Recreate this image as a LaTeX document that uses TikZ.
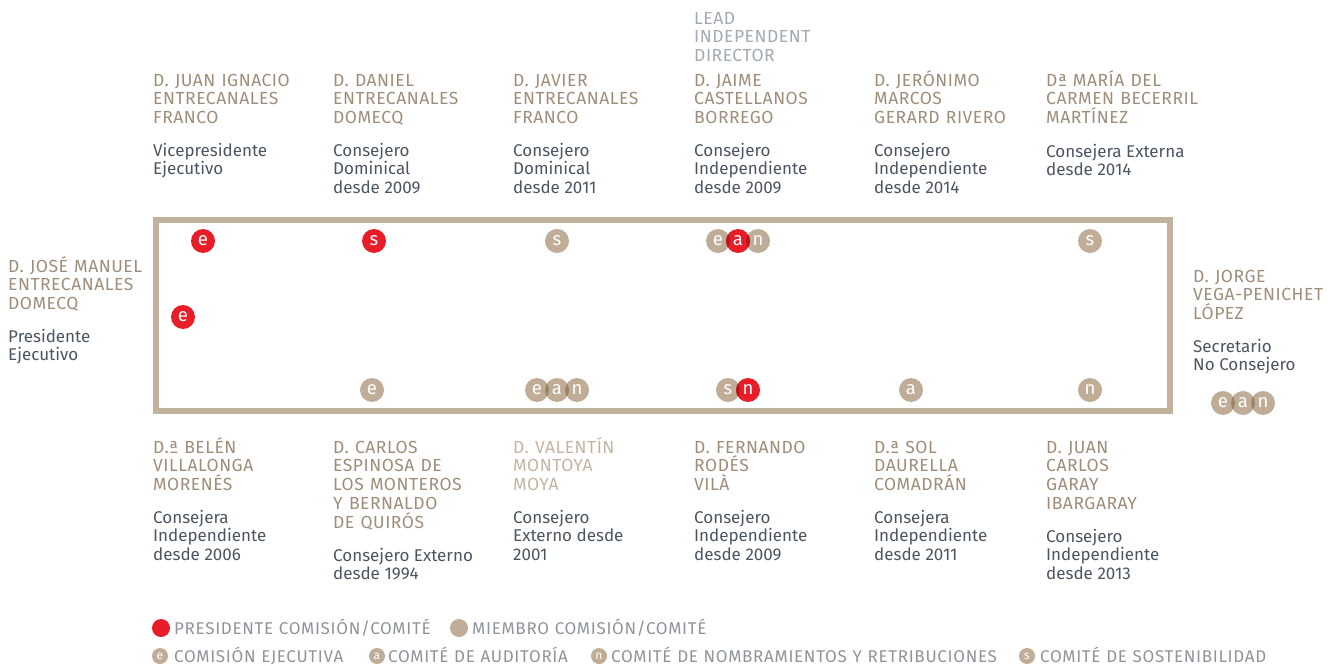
\documentclass[tikz,border=0pt]{standalone}
\usepackage{fontspec}
\setmainfont{Fira Sans}
\newfontfamily\capfont{Fira Sans}[LetterSpace=3, WordSpace=1.2]
\newfontfamily\legfont{Fira Sans}[LetterSpace=4, WordSpace=1.1]
\definecolor{nametan}{HTML}{9E8D79}
\definecolor{lighttan}{HTML}{C4B5A2}
\definecolor{rolegray}{HTML}{4B5560}
\definecolor{leadgray}{HTML}{A2AAB2}
\definecolor{legendgray}{HTML}{8E949A}
\definecolor{boxtan}{HTML}{C2B19C}
\definecolor{circtan}{HTML}{BFAD97}
\definecolor{darktan}{HTML}{9C8468}
\definecolor{cred}{HTML}{E91D27}
\definecolor{darkred}{HTML}{B5151D}
\newcommand{\fs}{\rule{0pt}{18pt}}
\newcommand{\lens}[4]{\begin{scope}\clip (#1) circle (12pt);\fill[#4] (#2) circle (12pt);\end{scope}}
\tikzset{
  nm/.style={anchor=north west, inner sep=0pt, align=left, text=nametan, font=\capfont\fontsize{17.5}{18.7}\selectfont},
  rl/.style={anchor=north west, inner sep=0pt, align=left, text=rolegray, font=\fontsize{17}{18.7}\selectfont},
  pc/.style={circle, fill=cred, minimum size=24pt, inner sep=0pt, text=white, font=\fontsize{18.5}{18}\selectfont},
  mc/.style={circle, fill=circtan, minimum size=24pt, inner sep=0pt, text=white, font=\fontsize{18.5}{18}\selectfont},
  lg/.style={anchor=base west, inner sep=0pt, text=legendgray, font=\legfont\fontsize{17}{18}\selectfont},
  lgc/.style={circle, fill=circtan, minimum size=16pt, inner sep=0pt, text=white, font=\fontsize{12}{12}\selectfont},
}
\begin{document}
\begin{tikzpicture}[x=1pt,y=-1pt]
\useasboundingbox (0,0) rectangle (1336,666);
% board frame
\node[draw=boxtan, line width=5.5pt, minimum width=1014pt, minimum height=191pt, inner sep=0pt] (board) at (663,315.5) {};

% top row names
\node[nm] (n1) at (153,68) {\fs D. JUAN IGNACIO\\ENTRECANALES\\FRANCO};
\node[rl] (r1) at (153,138) {\fs Vicepresidente\\Ejecutivo};
\node[nm] (n2) at (333,68) {\fs D. DANIEL\\ENTRECANALES\\DOMECQ};
\node[rl] (r2) at (333,138) {\fs Consejero\\Dominical\\desde 2009};
\node[nm] (n3) at (513,68) {\fs D. JAVIER\\ENTRECANALES\\FRANCO};
\node[rl] (r3) at (513,138) {\fs Consejero\\Dominical\\desde 2011};
\node[nm, text=leadgray] (lead) at (694,6) {\fs LEAD\\INDEPENDENT\\DIRECTOR};
\node[nm] (n4) at (694,68) {\fs D. JAIME\\CASTELLANOS\\BORREGO};
\node[rl] (r4) at (694,138) {\fs Consejero\\Independiente\\desde 2009};
\node[nm] (n5) at (874,68) {\fs D. JERÓNIMO\\MARCOS\\GERARD RIVERO};
\node[rl] (r5) at (874,138) {\fs Consejero\\Independiente\\desde 2014};
\node[nm] (n6) at (1046,68) {\fs Dª MARÍA DEL\\CARMEN BECERRIL\\MARTÍNEZ};
\node[rl] (r6) at (1046,139) {\fs Consejera Externa\\desde 2014};

% left and right
\node[nm] (n0) at (8,254) {\fs D. JOSÉ MANUEL\\ENTRECANALES\\DOMECQ};
\node[rl] (r0) at (8,324) {\fs Presidente\\Ejecutivo};
\node[nm] (n13) at (1193,264) {\fs D. JORGE\\VEGA-PENICHET\\LÓPEZ};
\node[rl] (r13) at (1193,334) {\fs Secretario\\No Consejero};

% bottom row names
\node[nm] (n7) at (153,435) {\fs D.ª BELÉN\\VILLALONGA\\MORENÉS};
\node[rl] (r7) at (153,505) {\fs Consejera\\Independiente\\desde 2006};
\node[nm] (n8) at (333,435) {\fs D. CARLOS\\ESPINOSA DE\\LOS MONTEROS\\Y BERNALDO\\DE QUIRÓS};
\node[rl] (r8) at (333,543) {\fs Consejero Externo\\desde 1994};
\node[nm, text=lighttan] (n9) at (513,435) {\fs D. VALENTÍN\\MONTOYA\\MOYA};
\node[rl] (r9) at (513,505) {\fs Consejero\\Externo desde\\2001};
\node[nm] (n10) at (694,435) {\fs D. FERNANDO\\RODÉS\\VILÀ};
\node[rl] (r10) at (694,505) {\fs Consejero\\Independiente\\desde 2009};
\node[nm] (n11) at (874,435) {\fs D.ª SOL\\DAURELLA\\COMADRÁN};
\node[rl] (r11) at (874,505) {\fs Consejera\\Independiente\\desde 2011};
\node[nm] (n12) at (1046,435) {\fs D. JUAN\\CARLOS\\GARAY\\IBARGARAY};
\node[rl] (r12) at (1046,524) {\fs Consejero\\Independiente\\desde 2013};

% committee circles, top row
\node[pc] (c1e) at (203,241) {e};
\node[pc] (c2s) at (374,241) {s};
\node[mc] (c3s) at (557,241) {s};
\node[mc] (c4e) at (718,241) {e};
\node[mc] (c4n) at (758,241) {n};
\node[pc] (c4a) at (738,241) {a};
\lens{c4a.center}{c4e.center}{}{darkred}
\lens{c4a.center}{c4n.center}{}{darkred}
\node[mc] (c6s) at (1090,241) {s};
% chairman
\node[pc] (c0e) at (183,317) {e};
% bottom row
\node[mc] (c8e) at (372,390) {e};
\node[mc] (c9e) at (537,390) {e};
\node[mc] (c9a) at (557,390) {a};
\node[mc] (c9n) at (577,390) {n};
\lens{c9e.center}{c9a.center}{}{darktan}
\lens{c9a.center}{c9n.center}{}{darktan}
\node[mc] (c10s) at (728,390) {s};
\node[pc] (c10n) at (748,390) {n};
\lens{c10n.center}{c10s.center}{}{darkred}
\node[mc] (c11a) at (911,390) {a};
\node[mc] (c12n) at (1090,390) {n};
% secretary
\node[mc] (c13e) at (1223,403) {e};
\node[mc] (c13a) at (1243,403) {a};
\node[mc] (c13n) at (1263,403) {n};
\lens{c13e.center}{c13a.center}{}{darktan}
\lens{c13a.center}{c13n.center}{}{darktan}

% legend
\node[circle, fill=cred, minimum size=18pt, inner sep=0pt] (lp) at (161,628) {};
\node[lg] (lpt) at (174,634) {PRESIDENTE COMISIÓN/COMITÉ};
\node[circle, fill=circtan, minimum size=18pt, inner sep=0pt] (lm) at (459,628) {};
\node[lg] (lmt) at (472,634) {MIEMBRO COMISIÓN/COMITÉ};
\node[lgc] (le) at (160,656) {e};
\node[lg] (let) at (174,662) {COMISIÓN EJECUTIVA};
\node[lgc] (la) at (377,656) {a};
\node[lg] (lat) at (388,662) {COMITÉ DE AUDITORÍA};
\node[lgc] (ln) at (599,656) {n};
\node[lg] (lnt) at (611,662) {COMITÉ DE NOMBRAMIENTOS Y RETRIBUCIONES};
\node[lgc] (ls) at (1027,656) {s};
\node[lg] (lst) at (1040,662) {COMITÉ DE SOSTENIBILIDAD};
\end{tikzpicture}
\end{document}
